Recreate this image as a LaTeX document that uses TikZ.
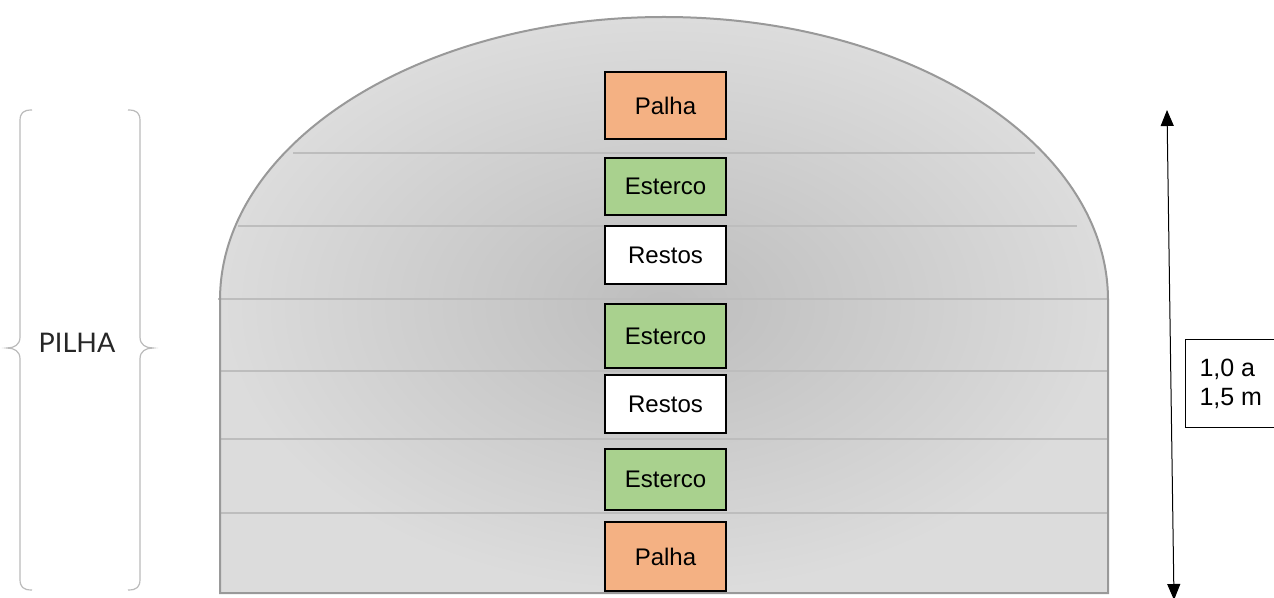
\documentclass[tikz,border=0pt]{standalone}
\usepackage{fontspec}
\setmainfont{Liberation Sans}
\newfontfamily\thinfont{Lato}
\usetikzlibrary{arrows.meta}
\definecolor{domeedge}{HTML}{999999}
\definecolor{domelight}{HTML}{DCDCDC}
\definecolor{domedark}{HTML}{BDBDBD}
\definecolor{layerline}{HTML}{BDBDBD}
\definecolor{palhac}{HTML}{F4B183}
\definecolor{estercoc}{HTML}{A9D18E}
\definecolor{bracec}{HTML}{BBBBBB}
\tikzset{
  layerbox/.style={draw=black, line width=1.4pt, minimum width=121pt, inner sep=0pt, font=\fontsize{24}{26}\selectfont},
  palhabox/.style={layerbox, fill=palhac},
  estercobox/.style={layerbox, fill=estercoc},
  restosbox/.style={layerbox, fill=white},
  layersep/.style={draw=layerline, line width=1.2pt},
  bracepath/.style={draw=bracec, line width=1.2pt},
}
\begin{document}
\begin{tikzpicture}[x=1pt,y=1pt]
\clip (0,0) rectangle (1274,597);
\fill[white] (0,0) rectangle (1274,597);
% dome
\path[inner color=domedark, outer color=domelight] (220,4) -- (220,297) arc[start angle=180, end angle=0, x radius=444pt, y radius=283pt] -- (1108,4) -- cycle;
% layer lines
\draw[layersep] (293,444) -- (1035,444);
\draw[layersep] (238,371) -- (1077,371);
\draw[layersep] (218,298) -- (1108,298);
\draw[layersep] (220,226) -- (1108,226);
\draw[layersep] (220,158) -- (1108,158);
\draw[layersep] (220,84) -- (1108,84);
\draw[draw=domeedge, line width=2pt] (220,4) -- (220,297) arc[start angle=180, end angle=0, x radius=444pt, y radius=283pt] -- (1108,4) -- cycle;
% layer boxes
\node[palhabox, minimum height=67pt] (p1) at (665.5,491.5) {Palha};
\node[estercobox, minimum height=57pt] (e1) at (665.5,410.5) {Esterco};
\node[restosbox, minimum height=58pt] (r1) at (665.5,342) {Restos};
\node[estercobox, minimum height=64pt] (e2) at (665.5,261) {Esterco};
\node[restosbox, minimum height=58pt] (r2) at (665.5,193) {Restos};
\node[estercobox, minimum height=61pt] (e3) at (665.5,117.5) {Esterco};
\node[palhabox, minimum height=69pt] (p2) at (665.5,40.5) {Palha};
% braces
\draw[bracepath] (32,487) .. controls (23,487) and (20,484) .. (20,476) -- (20,260) .. controls (20,252) and (14,249) .. (7,249) .. controls (14,249) and (20,246) .. (20,238) -- (20,18) .. controls (20,10) and (23,7) .. (32,7);
\draw[bracepath] (128,487) .. controls (137,487) and (140,484) .. (140,476) -- (140,260) .. controls (140,252) and (146,249) .. (153,249) .. controls (146,249) and (140,246) .. (140,238) -- (140,18) .. controls (140,10) and (137,7) .. (128,7);
\node[font=\thinfont\fontsize{27}{29}\selectfont, text=black!85] (pilha) at (77,254) {PILHA};
% height arrow
\coordinate (atop) at (1167,487);
\coordinate (abot) at (1174,-3);
\draw[line width=1pt, {Triangle[length=16pt,width=13pt]}-{Triangle[length=16pt,width=13pt]}] (atop) -- (abot);
% height label
\node[draw=black, line width=1pt, anchor=west, minimum width=100pt, minimum height=88pt, inner sep=0pt] (hbox) at (1185,213) {};
\node[align=left, font=\fontsize{25}{29}\selectfont, anchor=west] (htext) at (1196,213) {1,0 a\\1,5 m};
\end{tikzpicture}
\end{document}
